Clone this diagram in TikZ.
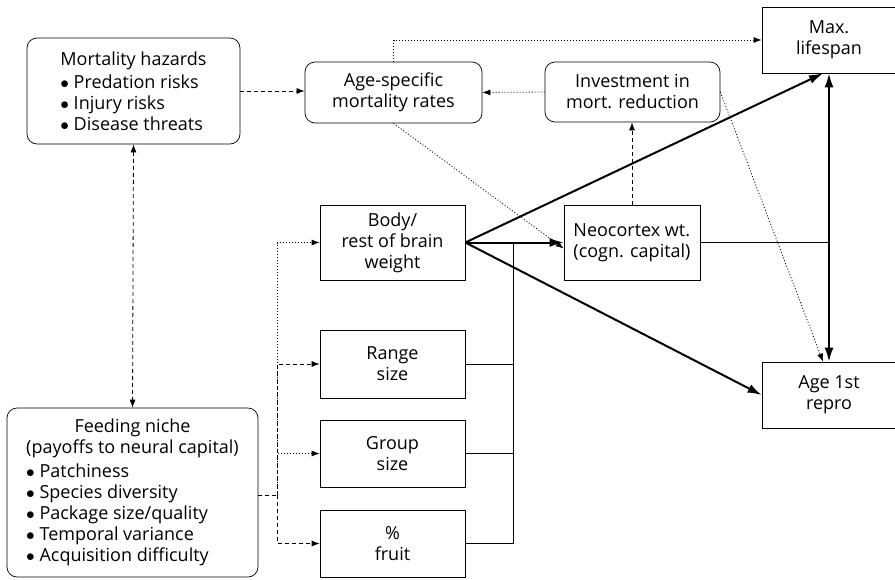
\documentclass[tikz,border=0pt]{standalone}
\usepackage{fontspec}
\setmainfont{Open Sans}
\usetikzlibrary{arrows.meta, positioning}

\newcommand{\bul}{$\bullet$\ }

\begin{document}
\begin{tikzpicture}[
    x=1pt, y=-1pt,
    every node/.style={font=\fontsize{18}{21}\selectfont, inner sep=0pt, align=center},
    roundbox/.style={draw, rounded corners=10pt, line width=0.7pt},
    sqbox/.style={draw, line width=0.7pt},
    dashline/.style={dash pattern=on 4pt off 3pt, line width=0.8pt},
    dotline/.style={dash pattern=on 1pt off 2pt, line width=0.8pt},
    heavy/.style={line width=2pt, >={Latex[length=14pt,width=9pt]}},
    >={Latex[length=8pt,width=6pt]} % Arrow style
]
\useasboundingbox (0,0) rectangle (895,579);

% Nodes
\node[roundbox, minimum width=213pt, minimum height=106pt, align=left] (mort) at (133.5,91)
    {Mortality hazards\\[2pt] \bul Predation risks\\ \bul Injury risks\\ \bul Disease threats};
\node[roundbox, minimum width=177pt, minimum height=61pt] (agemort) at (393.5,92.5)
    {Age-specific\\ mortality rates};
\node[roundbox, minimum width=175pt, minimum height=60pt] (invest) at (632.5,92)
    {Investment in\\ mort. reduction};
\node[sqbox, minimum width=134pt, minimum height=66pt] (maxlife) at (829,40)
    {Max.\\ lifespan};
\node[sqbox, minimum width=145pt, minimum height=75pt] (body) at (392.5,242.5)
    {Body/\\ rest of brain\\ weight};
\node[sqbox, minimum width=136pt, minimum height=75pt, align=left] (neo) at (632,242.5)
    {Neocortex wt.\\ (cogn. capital)};
\node[sqbox, minimum width=145pt, minimum height=68pt] (range) at (392.5,364)
    {Range\\ size};
\node[sqbox, minimum width=145pt, minimum height=67pt] (group) at (392.5,453.5)
    {Group\\ size};
\node[sqbox, minimum width=145pt, minimum height=67pt] (fruit) at (392.5,543.5)
    {\%\\ fruit};
\node[sqbox, minimum width=134pt, minimum height=66pt] (agerepro) at (829,395)
    {Age 1st\\ repro};
\node[roundbox, minimum width=251pt, minimum height=169pt] (niche) at (132.5,492.5)
    {\begin{tabular}{@{}l@{}}
     \multicolumn{1}{@{}c@{}}{Feeding niche}\\
     \multicolumn{1}{@{}c@{}}{(payoffs to neural capital)}\\[3pt]
     \bul Patchiness\\
     \bul Species diversity\\
     \bul Package size/quality\\
     \bul Temporal variance\\
     \bul Acquisition difficulty
     \end{tabular}};

\coordinate (busL) at (277,495);
\coordinate (busR) at (513,242.5);
\coordinate (join) at (829,242.5);

% Arrows
\draw[dashline,->] (mort.east) -- (mort.east -| agemort.west);
\draw[dashline,<->] (mort.south) -- (niche.north);
\draw[dotline,->] (agemort.north) |- (maxlife.west);
\draw[dotline,->] (invest.west) -- (agemort.east);
\draw[dashline,->] (neo.north) -- (neo.north |- invest.south);
\draw[dotline,->] (agemort.south) -- ([yshift=-6pt]neo.west);
\draw[dotline,->] (invest.east) -- ([xshift=-6pt]agerepro.north);

\draw[heavy,->] (body.east) -- ([xshift=-6pt]maxlife.south);
\draw[heavy,->] (body.east) -- (neo.west);
\draw[heavy,->] (body.east) -- (agerepro.west);
\draw[heavy,<->] (maxlife.south) -- (agerepro.north);
\draw[line width=1.2pt] (neo.east) -- (join);

\draw[dashline] (niche.east |- busL) -- (busL);
\draw[dotline,->] (busL) |- (body.west);
\draw[dashline,->] (busL) |- (range.west);
\draw[dotline,->] (busL) |- (group.west);
\draw[dashline,->] (busL) |- (fruit.west);

\draw[line width=0.8pt] (range.east) -| (busR);
\draw[line width=0.8pt] (group.east) -| (busR);
\draw[line width=0.8pt] (fruit.east) -| (busR);

\end{tikzpicture}
\end{document}
